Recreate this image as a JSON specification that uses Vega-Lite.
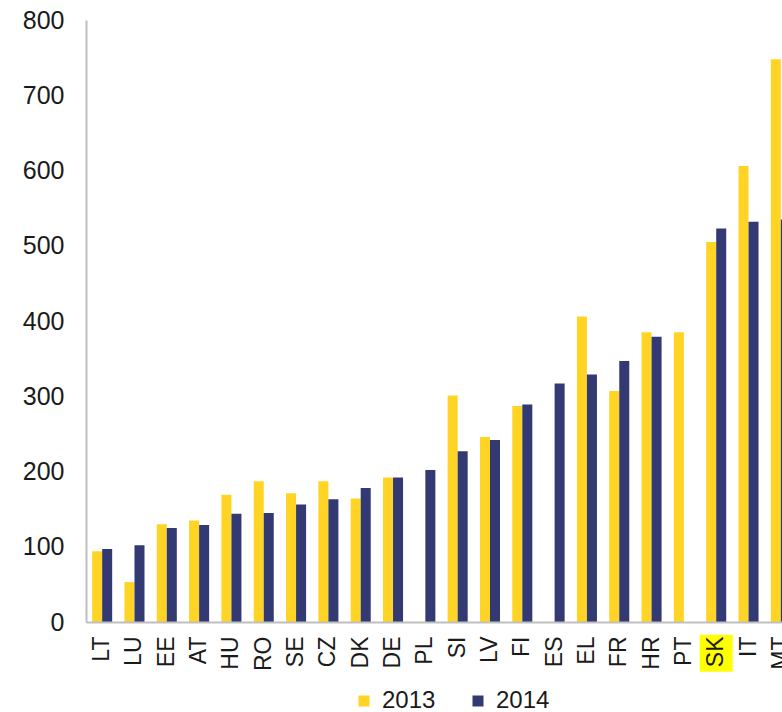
{
  "$schema": "https://vega.github.io/schema/vega-lite/v6.json",
  "width": 696,
  "height": 602,
  "autosize": {"type": "none"},
  "padding": {"left": 86, "top": 20, "right": 0, "bottom": 90},
  "background": "#ffffff",
  "config": {"view": {"stroke": null}, "font": "Liberation Sans"},
  "datasets": {
    "bars": [
      {"country": "LT", "year": "2013", "value": 94},
      {"country": "LT", "year": "2014", "value": 97},
      {"country": "LU", "year": "2013", "value": 53},
      {"country": "LU", "year": "2014", "value": 102},
      {"country": "EE", "year": "2013", "value": 130},
      {"country": "EE", "year": "2014", "value": 125},
      {"country": "AT", "year": "2013", "value": 135},
      {"country": "AT", "year": "2014", "value": 129},
      {"country": "HU", "year": "2013", "value": 169},
      {"country": "HU", "year": "2014", "value": 144},
      {"country": "RO", "year": "2013", "value": 187},
      {"country": "RO", "year": "2014", "value": 145},
      {"country": "SE", "year": "2013", "value": 171},
      {"country": "SE", "year": "2014", "value": 156},
      {"country": "CZ", "year": "2013", "value": 187},
      {"country": "CZ", "year": "2014", "value": 163},
      {"country": "DK", "year": "2013", "value": 164},
      {"country": "DK", "year": "2014", "value": 178},
      {"country": "DE", "year": "2013", "value": 192},
      {"country": "DE", "year": "2014", "value": 192},
      {"country": "PL", "year": "2014", "value": 202},
      {"country": "SI", "year": "2013", "value": 301},
      {"country": "SI", "year": "2014", "value": 227},
      {"country": "LV", "year": "2013", "value": 246},
      {"country": "LV", "year": "2014", "value": 242},
      {"country": "FI", "year": "2013", "value": 287},
      {"country": "FI", "year": "2014", "value": 289},
      {"country": "ES", "year": "2014", "value": 317},
      {"country": "EL", "year": "2013", "value": 406},
      {"country": "EL", "year": "2014", "value": 329},
      {"country": "FR", "year": "2013", "value": 307},
      {"country": "FR", "year": "2014", "value": 347},
      {"country": "HR", "year": "2013", "value": 385},
      {"country": "HR", "year": "2014", "value": 379},
      {"country": "PT", "year": "2013", "value": 385},
      {"country": "SK", "year": "2013", "value": 505},
      {"country": "SK", "year": "2014", "value": 523},
      {"country": "IT", "year": "2013", "value": 606},
      {"country": "IT", "year": "2014", "value": 532},
      {"country": "MT", "year": "2013", "value": 748},
      {"country": "MT", "year": "2014", "value": 535}
    ],
    "highlight": [
      {"country": "SK", "lo": -17, "hi": -66}
    ]
  },
  "layer": [
    {
      "data": {"name": "highlight"},
      "mark": {"type": "bar", "color": "#FFFF00", "width": {"band": 1.65}},
      "encoding": {
        "x": {
          "field": "country", "type": "nominal",
          "sort": ["LT","LU","EE","AT","HU","RO","SE","CZ","DK","DE","PL","SI","LV","FI","ES","EL","FR","HR","PT","SK","IT","MT"],
          "scale": {"range": [0, 711], "paddingInner": 0.38, "paddingOuter": 0.19}
        },
        "y": {"field": "lo", "type": "quantitative"},
        "y2": {"field": "hi"}
      }
    },
    {
      "data": {"name": "bars"},
      "mark": {"type": "bar"},
      "encoding": {
        "x": {
          "field": "country", "type": "nominal",
          "sort": ["LT","LU","EE","AT","HU","RO","SE","CZ","DK","DE","PL","SI","LV","FI","ES","EL","FR","HR","PT","SK","IT","MT"],
          "scale": {"range": [0, 711], "paddingInner": 0.38, "paddingOuter": 0.19},
          "axis": {
            "title": null, "labelAngle": -90, "labelFontSize": 23, "labelColor": "#1a1a1a",
            "labelPadding": 14, "ticks": false, "domainColor": "#BFBFBF", "domainWidth": 2,
            "zindex": 1, "labelOverlap": false
          }
        },
        "xOffset": {"field": "year", "type": "nominal", "sort": ["2013", "2014"]},
        "y": {
          "field": "value", "type": "quantitative",
          "scale": {"domain": [0, 800], "nice": false, "zero": true},
          "axis": {
            "title": null, "values": [0,100,200,300,400,500,600,700,800], "grid": false,
            "ticks": false, "labelFontSize": 25, "labelColor": "#1a1a1a", "labelPadding": 22,
            "domainColor": "#BFBFBF", "domainWidth": 2
          }
        },
        "color": {
          "field": "year", "type": "nominal",
          "scale": {"domain": ["2013", "2014"], "range": ["#FFD424", "#333A73"]},
          "legend": {
            "title": null, "orient": "none", "legendX": 266, "legendY": 669,
            "direction": "horizontal", "symbolType": "square", "symbolSize": 121,
            "labelFontSize": 24, "labelColor": "#1a1a1a", "labelOffset": 6, "columnPadding": 30,
            "symbolStrokeWidth": 0
          }
        }
      }
    }
  ]
}
